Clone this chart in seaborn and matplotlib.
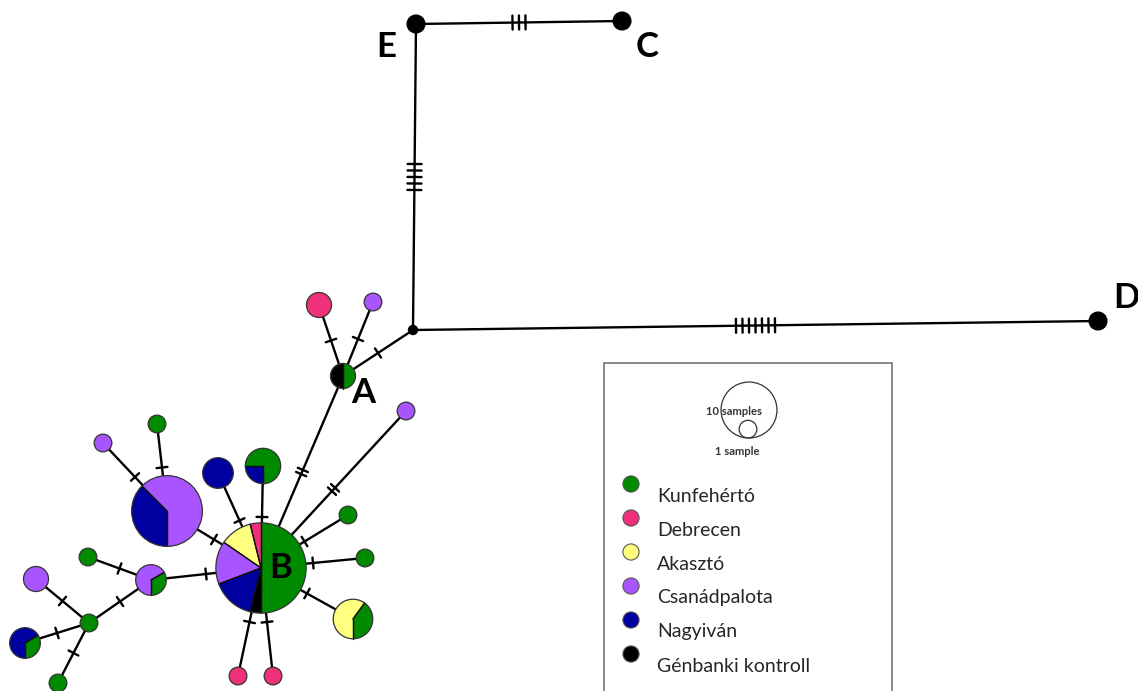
import numpy as np
import pandas as pd
import matplotlib
matplotlib.use("Agg")
import matplotlib.pyplot as plt
from matplotlib.patches import Wedge, Circle, Rectangle
import seaborn as sns

# ---------------------------------------------------------------------------
# Populations and colours
populations = ["Kunfehértó", "Debrecen", "Akasztó", "Csanádpalota", "Nagyiván",
               "Génbanki kontroll"]
pop_colors = ["#008a00", "#f0307a", "#ffff80", "#a855ff", "#0000a0", "#000000"]

# Haplotypes (mv = median vector, no samples)
haplotypes = ["E", "C", "D", "A", "B", "mv",
              "h7", "h8", "h9", "h10", "h11", "h12", "h13", "h14", "h15",
              "h16", "h17", "h18", "h19", "h20", "h21", "h22", "h23", "h24", "h25"]

# Sample counts per haplotype, one list per population
kunfeherto = [0, 0, 0, 1, 13, 0, 0, 0, 0, 1, 1, 2, 0, 0, 3, 0, 0, 1, 0, 1, 1, 1, 0, 1, 1]
debrecen   = [0, 0, 0, 0, 1, 0, 2, 0, 0, 0, 0, 0, 1, 1, 0, 0, 0, 0, 0, 0, 0, 0, 0, 0, 0]
akaszto    = [0, 0, 0, 0, 3, 0, 0, 0, 0, 0, 0, 3, 0, 0, 0, 0, 0, 0, 0, 0, 0, 0, 0, 0, 0]
csanadpalota = [0, 0, 0, 0, 4, 0, 0, 1, 1, 0, 0, 0, 0, 0, 0, 0, 10, 0, 1, 2, 0, 0, 2, 0, 0]
nagyivan   = [0, 0, 0, 0, 4, 0, 0, 0, 0, 0, 0, 0, 0, 0, 1, 3, 6, 0, 0, 0, 0, 0, 0, 2, 0]
genbank    = [1, 1, 1, 1, 1, 0, 0, 0, 0, 0, 0, 0, 0, 0, 0, 0, 0, 0, 0, 0, 0, 0, 0, 0, 0]

# Network edges and number of mutational steps
edge_from = ["E", "E", "mv", "mv", "A", "A", "A", "B", "B", "B", "B", "B", "B",
             "B", "B", "B", "B", "h17", "h17", "h20", "h20", "h22", "h22", "h22"]
edge_to   = ["C", "mv", "D", "A", "h7", "h8", "B", "h9", "h10", "h11", "h12", "h13",
             "h14", "h15", "h16", "h17", "h20", "h18", "h19", "h21", "h22", "h23",
             "h24", "h25"]
edge_steps = [3, 5, 7, 1, 1, 1, 2, 2, 1, 1, 1, 1, 1, 1, 1, 1, 1, 1, 1, 1, 1, 1, 1, 1]

# Labelled haplotypes
label_names = ["E", "C", "D", "A", "B"]

# Circle size legend
size_legend = [10, 1]
size_legend_text = ["10 samples", "1 sample"]

# ---------------------------------------------------------------------------
# Network layout (canvas units)
layout = {
    "E": (416, 24), "C": (622, 21), "D": (1098, 321), "A": (343, 376),
    "B": (261, 568), "mv": (413, 330),
    "h7": (319, 305), "h8": (373, 302), "h9": (406, 411), "h10": (348, 515),
    "h11": (365, 558), "h12": (353, 619), "h13": (238, 676), "h14": (273, 676),
    "h15": (263, 466), "h16": (218, 473), "h17": (167, 511), "h18": (157, 424),
    "h19": (103, 443), "h20": (151, 580), "h21": (88, 557), "h22": (89, 623),
    "h23": (36, 579), "h24": (25, 643), "h25": (58, 683),
}
label_pos = {"E": (386, 47), "C": (647, 47), "D": (1126, 298), "A": (363, 393),
             "B": (281, 568)}

counts = pd.DataFrame(
    {p: v for p, v in zip(populations,
                          [kunfeherto, debrecen, akaszto, csanadpalota, nagyivan, genbank])},
    index=haplotypes)

R1 = 8.85          # radius of a single-sample circle
W, H = 1138, 691

sns.set_theme(style="white")
plt.rcParams["font.family"] = ["Lato", "DejaVu Sans"]

fig = plt.figure(figsize=(W / 100, H / 100), dpi=100)
ax = fig.add_axes([0, 0, 1, 1])
ax.set_xlim(0, W)
ax.set_ylim(H, 0)
ax.axis("off")

LINE_W = 1.7


def radius(n):
    return R1 * np.sqrt(n)


# Edges with hatch marks for each mutational step
for a, b, k in zip(edge_from, edge_to, edge_steps):
    p = np.array(layout[a], float)
    q = np.array(layout[b], float)
    ax.plot([p[0], q[0]], [p[1], q[1]], color="black", lw=LINE_W, zorder=1,
            solid_capstyle="butt")
    u = (q - p) / np.linalg.norm(q - p)
    v = np.array([-u[1], u[0]])
    m = (p + q) / 2
    spacing = 6.5 if k > 2 else 4.5
    half = 7.0 if k > 2 else 5.5
    for i in range(k):
        c = m + (i - (k - 1) / 2) * spacing * u
        s0, s1 = c - half * v, c + half * v
        ax.plot([s0[0], s1[0]], [s0[1], s1[1]], color="black", lw=LINE_W, zorder=1)

# Haplotype nodes as pie charts
for h in haplotypes:
    x, y = layout[h]
    row = counts.loc[h]
    n = row.sum()
    if n == 0:
        ax.add_patch(Circle((x, y), 4.5, color="black", zorder=3))
        continue
    r = radius(n)
    if h in ("E", "C", "D"):
        ax.add_patch(Circle((x, y), r, facecolor="black", edgecolor="black", zorder=3))
        continue
    # y axis is inverted, so screen angles are mirrored in data space
    start = -90.0
    for pop, col in zip(populations, pop_colors):
        c = row[pop]
        if c == 0:
            continue
        ang = 360.0 * c / n
        w = Wedge((x, y), r, -(start + ang), -start, facecolor=col,
                  edgecolor="none", zorder=3)
        ax.add_patch(w)
        if c != n:
            for t in (start, start + ang):
                ax.plot([x, x + r * np.cos(np.radians(t))],
                        [y, y - r * np.sin(np.radians(t))],
                        color="#111111", lw=0.9, zorder=4)
        start += ang
    ax.add_patch(Circle((x, y), r, facecolor="none", edgecolor="#333333", lw=0.9,
                        zorder=5))

for name in label_names:
    lx, ly = label_pos[name]
    ax.text(lx, ly, name, fontsize=25, fontweight="bold", ha="center", va="center",
            color="black", zorder=6)

# Legend box
ax.add_patch(Rectangle((604, 363), 288, 360, facecolor="white", edgecolor="#808080",
                       lw=1.3, zorder=2))

# Circle size legend
base_y = 438
cx = 749
for n_s in size_legend:
    r = radius(n_s)
    ax.add_patch(Circle((cx - (0 if n_s == 10 else 1), base_y - r), r, facecolor="none",
                        edgecolor="#333333", lw=0.9, zorder=3))
ax.text(734, 411, size_legend_text[0], fontsize=8, fontweight="bold", ha="center",
        va="center", color="#333333", zorder=4)
ax.text(737, 451, size_legend_text[1], fontsize=8, fontweight="bold", ha="center",
        va="center", color="#333333", zorder=4)

# Population colour legend
leg = pd.DataFrame({"population": populations,
                    "x": [631] * len(populations),
                    "y": [484 + 34 * i for i in range(len(populations))]})
sns.scatterplot(data=leg, x="x", y="y", hue="population", palette=pop_colors,
                s=135, edgecolor="#555555", linewidth=0.8, legend=False, ax=ax,
                zorder=4)
for i, pop in enumerate(populations):
    ax.text(657, 496 + 34 * i, pop, fontsize=14, ha="left", va="center",
            color="#262626", zorder=4)

ax.set_xlim(0, W)
ax.set_ylim(H, 0)
ax.set_xlabel("")
ax.set_ylabel("")
fig.savefig("out.png", dpi=100, facecolor="white")
